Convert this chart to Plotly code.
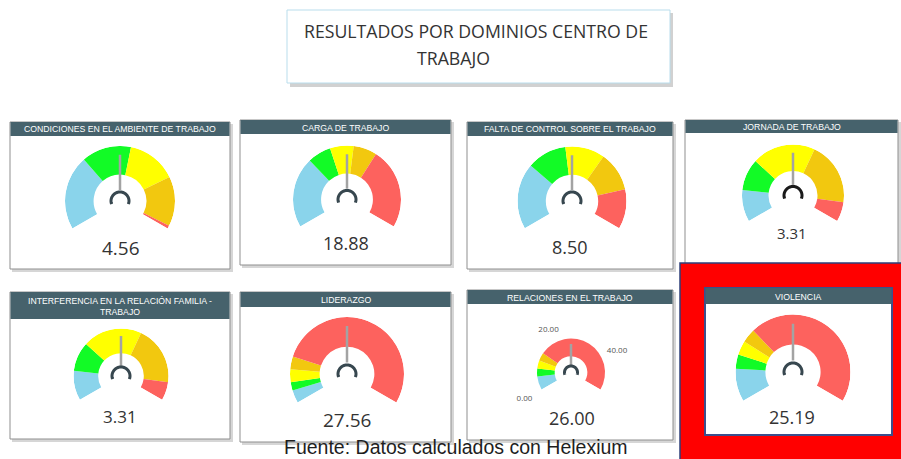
import numpy as np
import plotly.graph_objects as go

W, H = 901, 459

# ---------------- data ----------------
domain_titles = [
    "CONDICIONES EN EL AMBIENTE DE TRABAJO",
    "CARGA DE TRABAJO",
    "FALTA DE CONTROL SOBRE EL TRABAJO",
    "JORNADA DE TRABAJO",
    "INTERFERENCIA EN LA RELACIÓN FAMILIA -<br>TRABAJO",
    "LIDERAZGO",
    "RELACIONES EN EL TRABAJO",
    "VIOLENCIA",
]
values = [4.56, 18.88, 8.50, 3.31, 3.31, 27.56, 26.00, 25.19]
gauge_min = [0, 0, 0, 0, 0, 0, 0, 0]
gauge_max = [9.12, 37.76, 17.00, 6.62, 6.62, 55.12, 52.00, 50.38]
thresholds = [
    [3, 5, 7, 9],
    [12, 16, 20, 24],
    [5, 8, 11, 14],
    [1, 2, 4, 6],
    [1, 2, 4, 6],
    [3, 5, 8, 11],
    [5, 8, 11, 14],
    [7, 10, 13, 16],
]
level_names = ["Nulo", "Bajo", "Medio", "Alto", "Muy alto"]
relaciones_tick_values = [0, 20, 40]
relaciones_tick_labels = ["0.00", "20.00", "40.00"]
title_lines = ["RESULTADOS POR DOMINIOS CENTRO DE", "TRABAJO"]
footer_text = "Fuente: Datos calculados con Helexium"

# ---------------- styles / layout geometry ----------------
level_colors = ["#8AD4EB", "#12FB26", "#FFFF00", "#F2C80F", "#FD625E"]
HEADER = "#46626C"
ARC_DEG = 240.0

# gauge centre (px), outer radius of the coloured band (px)
gauge_geom = [
    (120, 201, 55), (347, 199.5, 54), (572, 201, 54.5), (793, 195.5, 51),
    (121, 376, 47.5), (347, 374, 57), (571, 372.5, 34), (793, 372, 57.5),
]
# radial extent of each polar subplot (band outer edge = 1)
radial_extent = [1, 1, 1, 1, 1, 1, 1.7, 1]
tick_label_r = [1.58, 1.42, 1.5]
value_pos = [(121, 248), (346, 243), (570, 246.5), (792, 233),
             (120, 416.5), (347, 420), (571.5, 418), (792, 416.5)]
value_size = [19, 18, 18, 15, 17, 19, 18, 18]
hub_color = ["#37474F"] * 3 + ["#1A1A1A"] + ["#37474F"] * 4
# panel boxes: x0, y0, x1, y1, header bottom
panels = [
    (10, 122, 230, 269, 136),
    (240, 120, 451, 265, 134),
    (467, 122, 673, 269, 136),
    (685, 120, 898, 268, 133),
    (10, 292, 230, 439, 319),
    (240, 292, 451, 442, 307),
    (467, 290, 673, 440, 304),
    (705, 288, 892, 435, 304),
]


def px(x):
    return x / W


def py(y):
    return 1 - y / H


fig = go.Figure()
shapes = []
annotations = []


def rect(x0, y0, x1, y1, fill, line=None, lw=0):
    shapes.append(dict(type="rect", xref="paper", yref="paper",
                       x0=px(x0), x1=px(x1), y0=py(y1), y1=py(y0),
                       fillcolor=fill, layer="below",
                       line=dict(color=line or "rgba(0,0,0,0)", width=lw)))


TITLE_FONT = dict(family="Open Sans, Segoe UI, sans-serif", size=17.7, color="#333333")
# title box
rect(290, 13, 673, 87, "rgba(0,0,0,0.18)")
rect(287, 10, 670, 83, "white", "#B9DDEC", 1)
annotations.append(dict(x=px(476), y=py(31), text=title_lines[0], showarrow=False,
                        xref="paper", yref="paper", xanchor="center", yanchor="middle",
                        font=TITLE_FONT))
annotations.append(dict(x=px(453), y=py(58.5), text=title_lines[1], showarrow=False,
                        xref="paper", yref="paper", xanchor="center", yanchor="middle",
                        font=TITLE_FONT))

for i, (x0, y0, x1, y1, hb) in enumerate(panels):
    if i == 7:
        # red highlight box behind "VIOLENCIA"
        rect(680, 263, 903, 461, "#FF0000", "#2E3F7A", 1.5)
        rect(x0, y0, x1, y1, "white", "#3B4F8C", 2)
    else:
        rect(x0 + 2, y0 + 2, x1 + 3, y1 + 3, "rgba(0,0,0,0.16)")
        rect(x0, y0, x1, y1, "white", "#8F8F8F", 1)
    rect(x0 + 0.5, y0, x1 - 0.5, hb, HEADER)
    annotations.append(dict(x=px((x0 + x1) / 2), y=py((y0 + hb) / 2 + 0.5),
                            text=domain_titles[i], showarrow=False,
                            xref="paper", yref="paper", xanchor="center", yanchor="middle",
                            font=dict(family="Liberation Sans, Arial, sans-serif",
                                      size=8.7, color="white")))

# gauges
for i in range(8):
    sp = "polar" if i == 0 else f"polar{i + 1}"
    vmin, vmax = gauge_min[i], gauge_max[i]
    deg = ARC_DEG / (vmax - vmin)
    edges = [vmin] + thresholds[i] + [vmax]
    for k in range(5):
        lo, hi = edges[k], min(edges[k + 1], vmax)
        if hi <= lo:
            continue
        fig.add_trace(go.Barpolar(
            r=[0.52], base=[0.48], theta=[(lo + hi) / 2 * deg], width=[(hi - lo) * deg],
            marker=dict(color=level_colors[k], line=dict(width=0)),
            name=level_names[k], subplot=sp, showlegend=False, hoverinfo="skip"))
    # needle
    fig.add_trace(go.Scatterpolar(
        r=[0.2, 0.84], theta=[(values[i] - vmin) * deg] * 2, mode="lines",
        line=dict(color="#A3A3A3", width=2.5), subplot=sp, showlegend=False, hoverinfo="skip"))
    # hub
    cx, cy, R = gauge_geom[i]
    hub_r = 9.0 / R if i != 6 else 6.5 / R
    th = np.linspace(10, ARC_DEG - 10, 40)
    fig.add_trace(go.Scatterpolar(
        r=[hub_r] * len(th), theta=th, mode="lines",
        line=dict(color=hub_color[i], width=3), subplot=sp, showlegend=False, hoverinfo="skip"))
    if i == 6:
        # scale labels of the "Relaciones" gauge
        fig.add_trace(go.Scatterpolar(
            r=tick_label_r, theta=[(v - vmin) * deg for v in relaciones_tick_values],
            text=relaciones_tick_labels, mode="text", cliponaxis=False,
            textfont=dict(family="Open Sans, sans-serif", size=8, color="#555555"),
            subplot=sp, showlegend=False, hoverinfo="skip"))

    ang = dict(rotation=210, direction="clockwise", showgrid=False, showline=False,
               ticks="", showticklabels=False)
    ext = radial_extent[i]
    Rd = R * ext
    fig.layout[sp] = dict(
        domain=dict(x=[px(cx - Rd), px(cx + Rd)], y=[py(cy + 0.5 * Rd), py(cy - Rd)]),
        sector=[-30, 210], bgcolor="rgba(0,0,0,0)", hole=0,
        radialaxis=dict(visible=False, range=[0, ext]),
        angularaxis=ang)
    vx, vy = value_pos[i]
    annotations.append(dict(x=px(vx), y=py(vy), text=f"{values[i]:.2f}", showarrow=False,
                            xref="paper", yref="paper", xanchor="center", yanchor="middle",
                            font=dict(family="Open Sans, Segoe UI, sans-serif",
                                      size=value_size[i], color="#333333")))

annotations.append(dict(x=px(456), y=py(447), text=footer_text, showarrow=False,
                        xref="paper", yref="paper", xanchor="center", yanchor="middle",
                        font=dict(family="Liberation Sans, Arial, sans-serif", size=19.5, color="#1E1E1E")))

fig.update_layout(width=W, height=H, margin=dict(l=0, r=0, t=0, b=0),
                  paper_bgcolor="white", plot_bgcolor="white",
                  shapes=shapes, annotations=annotations, showlegend=False,
                  barmode="overlay")
fig.write_html("out.html")
